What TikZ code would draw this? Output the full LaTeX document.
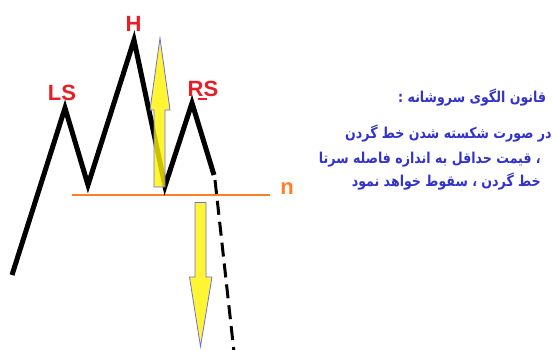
\documentclass[tikz,border=0pt]{standalone}
\usepackage{fontspec}
\setmainfont{Liberation Sans}
\newfontfamily\arabicfont[Script=Arabic, FakeStretch=0.84]{DejaVu Sans}
\TeXXeTstate=1
\definecolor{lblred}{RGB}{236,28,36}
\definecolor{necko}{RGB}{255,127,39}
\definecolor{txtblue}{RGB}{51,51,204}
\definecolor{arrowedge}{RGB}{110,110,225}
\tikzset{
  price/.style={line width=5pt, line join=miter, miter limit=20, line cap=butt},
  brk/.style={line width=3pt, dash pattern=on 14pt off 7pt},
  lbl/.style={font=\fontsize{22}{24}\selectfont\bfseries, text=lblred, inner sep=0pt},
  fa/.style={font=\arabicfont\fontsize{15}{17}\selectfont\bfseries, text=txtblue, inner sep=0pt},
  yarrow/.style={fill=yellow, fill opacity=0.8, draw=arrowedge, draw opacity=1, line width=0.8pt, line join=miter}
}
\begin{document}
\begin{tikzpicture}[x=1pt,y=-1pt]
\useasboundingbox (0,0) rectangle (552,349);
\clip (0,0) rectangle (552,349);
% zigzag points
\coordinate (p0) at (12,275);
\coordinate (ls) at (65,108);
\coordinate (t1) at (88,185);
\coordinate (hh) at (134,40);
\coordinate (t2) at (165,186);
\coordinate (rs) at (192,103);
\coordinate (p6) at (214,175);
\coordinate (d0) at (215,180);
\coordinate (d1) at (234,352);
\coordinate (nl) at (72,195);
\coordinate (nr) at (270,195);
% neckline
\draw[necko, line width=2.8pt] (nl) -- (nr);
\node[font=\fontsize{22}{24}\selectfont\bfseries, text=necko, inner sep=0pt] (nlab) at (287,189) {n};
% price line
\draw[price] (p0) -- (ls) -- (t1) -- (hh) -- (t2) -- (rs) -- (p6);
\draw[brk] (d0) -- (d1);
% labels
\node[lbl] (lLS) at (62,92.5) {LS};
\node[lbl] (lH) at (133.5,23.5) {H};
\node[lbl] (lRS) at (203,88.5) {RS};
\draw[lblred, line width=1.2pt] (198,99) -- (207,99);
% arrows
\draw[yarrow] (154,187) -- (154,110) -- (150,110) -- (160,38) -- (170,110) -- (165,110) -- (165,187) -- cycle;
\draw[yarrow] (195,202.5) -- (195,277) -- (189.5,277) -- (200.5,346.5) -- (212,277) -- (206,277) -- (206,202.5) -- cycle;
% Persian text
\node[fa, anchor=base west] (f1) at (398,102) {\beginR قانون الگوی سروشانه :\endR};
\node[fa, anchor=base west] (f2) at (345,138) {\beginR در صورت شکسته شدن خط گردن\endR};
\node[fa, anchor=base east] (f3) at (541,163) {\beginR ، قیمت حداقل به اندازه فاصله سرتا\endR};
\node[fa, anchor=base east] (f4) at (541,186) {\beginR خط گردن ، سقوط خواهد نمود\endR};
\end{tikzpicture}
\end{document}
